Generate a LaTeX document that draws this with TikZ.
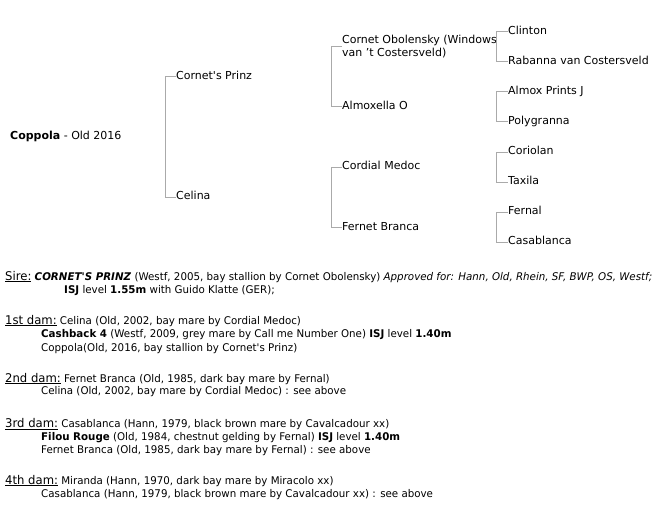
\documentclass[tikz,border=0pt]{standalone}
\usepackage{fontspec}
\setmainfont{DejaVu Sans}
\newfontfamily\bodyfam[FakeStretch=0.97]{DejaVu Sans}
\definecolor{linegray}{RGB}{170,170,170}
\newcommand\treefnt{\fontsize{11}{13}\selectfont}
\newcommand\bodyfnt{\bodyfam\fontsize{10.6}{12}\selectfont}
\newcommand\hdng[1]{{\fontsize{12}{13}\selectfont\underline{#1}}}
\begin{document}
\begin{tikzpicture}[x=1pt,y=-1pt,
  tn/.style={anchor=west,inner sep=0pt,font=\treefnt,text height=8pt,text depth=2.5pt},
  tn2/.style={anchor=west,inner sep=0pt,font=\treefnt,align=left},
  ln/.style={anchor=base west,inner sep=0pt,font=\bodyfnt},
  br/.style={draw=linegray,line width=1pt}]
\useasboundingbox (0,0) rectangle (670,519);
% tree
\node[tn] (root) at (10,137) {\textbf{Coppola} - Old 2016};
\node[tn] (s) at (176,77) {Cornet\textquotesingle s Prinz};
\node[tn] (d) at (176,197) {Celina};
\node[tn2] (ss) at (342,47) {Cornet Obolensky (Windows\\van ’t Costersveld)};
\node[tn] (sd) at (342,107) {Almoxella O};
\node[tn] (ds) at (342,167) {Cordial Medoc};
\node[tn] (dd) at (342,227.5) {Fernet Branca};
\node[tn] (sss) at (508,31.7) {Clinton};
\node[tn] (ssd) at (508,61.5) {Rabanna van Costersveld};
\node[tn] (sds) at (508,91.7) {Almox Prints J};
\node[tn] (sdd) at (508,121.7) {Polygranna};
\node[tn] (dss) at (508,152) {Coriolan};
\node[tn] (dsd) at (508,182) {Taxila};
\node[tn] (dds) at (508,212) {Fernal};
\node[tn] (ddd) at (508,242) {Casablanca};
\draw[br] (s.west) -- ++(-11,0) |- (d.west);
\draw[br] (ss.west) -- ++(-11,0) |- (sd.west);
\draw[br] (ds.west) -- ++(-11,0) |- (dd.west);
\draw[br] (sss.west) -- ++(-12,0) |- (ssd.west);
\draw[br] (sds.west) -- ++(-12,0) |- (sdd.west);
\draw[br] (dss.west) -- ++(-12,0) |- (dsd.west);
\draw[br] (dds.west) -- ++(-12,0) |- (ddd.west);
% text
\node[ln] (sire) at (5,280) {\hdng{Sire:} \textbf{\textit{CORNET\textquotesingle S PRINZ}} (Westf, 2005, bay stallion by Cornet Obolensky) \textit{Approved for: Hann, Old, Rhein, SF, BWP, OS, Westf;}};
\node[ln] (sire2) at (64,293) {\textbf{ISJ} level \textbf{1.55m} with Guido Klatte (GER);};
\node[ln] (d1) at (5,324) {\hdng{1st dam:} Celina (Old, 2002, bay mare by Cordial Medoc)};
\node[ln] (d1a) at (41,337.5) {\textbf{Cashback 4} (Westf, 2009, grey mare by Call me Number One) \textbf{ISJ} level \textbf{1.40m}};
\node[ln] (d1b) at (41,351) {Coppola(Old, 2016, bay stallion by Cornet\textquotesingle s Prinz)};
\node[ln] (d2) at (5,382) {\hdng{2nd dam:} Fernet Branca (Old, 1985, dark bay mare by Fernal)};
\node[ln] (d2a) at (41,394.5) {Celina (Old, 2002, bay mare by Cordial Medoc) : see above};
\node[ln] (d3) at (5,427.5) {\hdng{3rd dam:} Casablanca (Hann, 1979, black brown mare by Cavalcadour xx)};
\node[ln] (d3a) at (41,440.5) {\textbf{Filou Rouge} (Old, 1984, chestnut gelding by Fernal) \textbf{ISJ} level \textbf{1.40m}};
\node[ln] (d3b) at (41,453.5) {Fernet Branca (Old, 1985, dark bay mare by Fernal) : see above};
\node[ln] (d4) at (5,484) {\hdng{4th dam:} Miranda (Hann, 1970, dark bay mare by Miracolo xx)};
\node[ln] (d4a) at (41,497) {Casablanca (Hann, 1979, black brown mare by Cavalcadour xx) : see above};
\end{tikzpicture}
\end{document}
